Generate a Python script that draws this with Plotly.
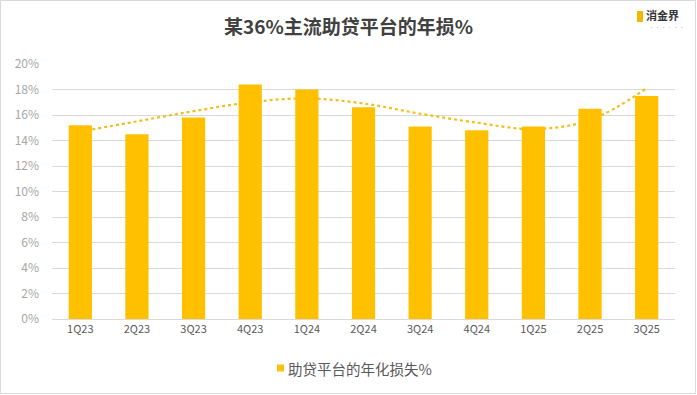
import plotly.graph_objects as go

quarters = ["1Q23", "2Q23", "3Q23", "4Q23", "1Q24", "2Q24", "3Q24", "4Q24", "1Q25", "2Q25", "3Q25"]
loss_rate = [15.2, 14.5, 15.8, 18.4, 18.0, 16.6, 15.1, 14.8, 15.1, 16.5, 17.5]
trend = [14.7, 15.5, 16.3, 17.0, 17.3, 16.9, 16.1, 15.4, 14.9, 15.6, 18.1]
y_ticks = [0, 2, 4, 6, 8, 10, 12, 14, 16, 18, 20]
y_tick_labels = [f"{v}%" for v in y_ticks]
legend_label = "助贷平台的年化损失%"

FONT = "Noto Sans CJK SC"
GRAY = "#595959"

W, H = 697, 395
L, R, T, B = 52, 22, 64, 76
PW, PH = W - L - R, H - T - B


def px(x):
    return (x - L) / PW


def py(y):
    return (H - B - y) / PH


fig = go.Figure()

# trendline on base axes (drawn beneath the bars)
fig.add_trace(go.Scatter(
    x=quarters, y=trend, mode="lines",
    line=dict(color="#F2BE1A", width=2.2, dash="dot", shape="spline", smoothing=1.0),
    showlegend=False, hoverinfo="skip", xaxis="x", yaxis="y",
))

fig.add_trace(go.Bar(
    x=quarters, y=loss_rate, name=legend_label,
    marker=dict(color="#FFC000", line=dict(width=0)),
    xaxis="x2", yaxis="y2", showlegend=False,
))

axis_common_x = dict(type="category", categoryorder="array", categoryarray=quarters,
                     range=[-0.5, len(quarters) - 0.5])
axis_common_y = dict(range=[0, 20], tickvals=y_ticks)

fig.update_layout(
    width=W, height=H,
    margin=dict(l=L, r=R, t=T, b=B),
    paper_bgcolor="white", plot_bgcolor="white",
    bargap=0.59,
    font=dict(family=FONT, color=GRAY, size=11),
    title=dict(text="<b>某36%主流助贷平台的年损%</b>", x=0.5, xanchor="center",
               y=1 - 27 / H, yanchor="middle",
               font=dict(family=FONT, size=19, color="#404040")),
    xaxis=dict(**axis_common_x, showgrid=False, showline=True, linecolor="#D9D9D9",
               linewidth=1, ticks="", tickfont=dict(size=11, color=GRAY), fixedrange=True),
    yaxis=dict(**axis_common_y, ticktext=y_tick_labels, showgrid=True, gridcolor="#D9D9D9",
               gridwidth=1, zeroline=False, showline=False, ticks="",
               ticklabelstandoff=12,
               tickfont=dict(size=12, color="#A6A6A6"), fixedrange=True),
    xaxis2=dict(**axis_common_x, overlaying="x", showgrid=False, showline=False,
                showticklabels=False, ticks=""),
    yaxis2=dict(**axis_common_y, overlaying="y", showgrid=False, zeroline=False,
                showline=False, showticklabels=False, ticks=""),
    showlegend=False,
    shapes=[
        # outer frame
        dict(type="rect", xref="paper", yref="paper", x0=px(0.5), x1=px(W - 1.5),
             y0=py(H - 1.5), y1=py(0.5), line=dict(color="#D9D9D9", width=1)),
        # logo icon
        dict(type="rect", xref="paper", yref="paper",
             x0=px(637), x1=px(643), y0=py(22), y1=py(11),
             fillcolor="#F5B800", line=dict(width=0)),
        # legend swatch
        dict(type="rect", xref="paper", yref="paper",
             x0=px(277), x1=px(284), y0=py(371.5), y1=py(364.5),
             fillcolor="#FFC000", line=dict(width=0)),
    ],
    annotations=[
        dict(text="<b>消金界</b>", xref="paper", yref="paper",
             x=px(644), xanchor="left", y=py(15), yanchor="middle",
             showarrow=False, font=dict(family=FONT, size=11, color="#333333")),
        dict(text="· · · · · ·", xref="paper", yref="paper",
             x=px(647), xanchor="left", y=py(26), yanchor="middle",
             showarrow=False, font=dict(family=FONT, size=5, color="#BBBBBB")),
        dict(text=legend_label, xref="paper", yref="paper",
             x=px(286), xanchor="left", y=py(368), yanchor="middle",
             showarrow=False, font=dict(family=FONT, size=14.5, color=GRAY)),
    ],
)

fig.write_html("out.html", post_script="document.body.style.margin='0';",
               config={"displayModeBar": False, "staticPlot": True})
